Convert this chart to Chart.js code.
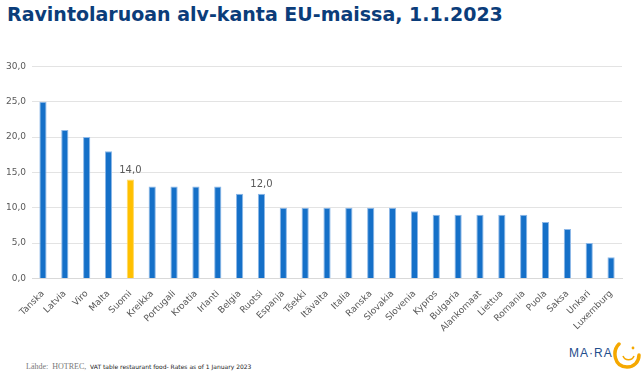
<!DOCTYPE html>
<html>
<head>
<meta charset="utf-8">
<script src="https://cdn.jsdelivr.net/npm/chart.js@4"></script>
<style>
  body { margin: 0; background: #fff; width: 642px; height: 375px; overflow: hidden; position: relative; font-family: "DejaVu Sans", sans-serif; }
  #title { position: absolute; left: 7px; top: 3px; font-size: 19px; font-weight: bold; color: #0b3d7a; white-space: nowrap; }
  #chartBox { position: absolute; left: 0; top: 55px; width: 642px; height: 281px; }
  #source { position: absolute; left: 26px; top: 362px; font-size: 6px; color: #222; white-space: nowrap; }
  #source b { color: #777; font-weight: normal; font-family: "Liberation Serif", serif; font-size: 8px; }
  #logo { position: absolute; left: 569px; top: 346px; font-size: 12px; color: #1f4e8c; font-family: "Liberation Sans", sans-serif; letter-spacing: 1px; }
  #arc { position: absolute; left: 612px; top: 341px; }
</style>
</head>
<body>
<div id="title">Ravintolaruoan alv-kanta EU-maissa, 1.1.2023</div>
<div id="chartBox"><canvas id="chart-vat"></canvas></div>
<div id="source"><b>Lähde:&nbsp; HOTREC,</b>&nbsp; VAT table restaurant food- Rates as of 1 January 2023</div>
<div id="logo">MA·RA</div>
<svg id="arc" width="29" height="29" viewBox="0 0 29 29">
  <path d="M7 3 C 0 10, 2 26, 15 26 C 22 26, 27 21, 27 14" fill="none" stroke="#f5a800" stroke-width="3.5" stroke-linecap="round"/>
  <path d="M11 15 C 13 20, 20 20, 22 15" fill="none" stroke="#f5a800" stroke-width="1.6"/>
  <circle cx="21" cy="7" r="1.4" fill="#f5a800"/>
</svg>
<script>
const countries = ['Tanska', 'Latvia', 'Viro', 'Malta', 'Suomi', 'Kreikka', 'Portugali', 'Kroatia', 'Irlanti', 'Belgia',
  'Ruotsi', 'Espanja', 'Tšekki', 'Itävalta', 'Italia', 'Ranska', 'Slovakia', 'Slovenia', 'Kypros', 'Bulgaria',
  'Alankomaat', 'Liettua', 'Romania', 'Puola', 'Saksa', 'Unkari', 'Luxemburg'];
const vatRates = [25, 21, 20, 18, 14, 13, 13, 13, 13, 12,
  12, 10, 10, 10, 10, 10, 10, 9.5, 9, 9,
  9, 9, 9, 8, 7, 5, 3];
const labelled = ['Suomi', 'Ruotsi'];
const yTicks = [0, 5, 10, 15, 20, 25, 30];

const fmt = v => v.toFixed(1).replace('.', ',');

const barColors = countries.map(c => c === 'Suomi' ? '#ffc000' : '#1570c8');
const borderColors = countries.map(c => c === 'Suomi' ? '#ffd966' : '#8db8e8');

// draws the value only above the highlighted bars
const valueLabels = {
    id: 'valueLabels',
    afterDatasetsDraw(chart) {
        const ctx = chart.ctx;
        const meta = chart.getDatasetMeta(0);
        ctx.save();
        ctx.font = '10px "DejaVu Sans", sans-serif';
        ctx.fillStyle = '#595959';
        ctx.textAlign = 'center';
        ctx.textBaseline = 'bottom';
        countries.forEach((c, i) => {
            if (!labelled.includes(c)) return;
            const bar = meta.data[i];
            ctx.fillText(fmt(vatRates[i]), bar.x, bar.y - 4);
        });
        ctx.restore();
    }
};

const chartVatContext = document.getElementById('chart-vat');

var chartVat = new Chart(chartVatContext, {
    type: 'bar',
    data: {
        labels: countries,
        datasets: [{
            data: vatRates,
            backgroundColor: barColors,
            borderColor: borderColors,
            borderWidth: 1,
            categoryPercentage: 1,
            barPercentage: 0.33
        }]
    },
    options: {
        responsive: true,
        maintainAspectRatio: false,
        animation: false,
        layout: { padding: { top: 8, left: 0, right: 20, bottom: 0 } },
        plugins: {
            legend: { display: false },
            tooltip: { enabled: false }
        },
        scales: {
            x: {
                grid: { display: false },
                border: { color: '#d9d9d9', width: 1 },
                ticks: {
                    color: '#595959',
                    font: { size: 9, family: '"DejaVu Sans", sans-serif' },
                    maxRotation: 45,
                    minRotation: 45,
                    autoSkip: false,
                    padding: 2
                }
            },
            y: {
                min: 0,
                max: 30,
                afterBuildTicks(axis) { axis.ticks = yTicks.map(v => ({ value: v })); },
                grid: { color: '#e3e3e3', drawTicks: false },
                border: { display: false },
                ticks: {
                    color: '#595959',
                    font: { size: 9, family: '"DejaVu Sans", sans-serif' },
                    padding: 6,
                    callback: v => fmt(v)
                }
            }
        }
    },
    plugins: [valueLabels]
});
</script>
</body>
</html>
